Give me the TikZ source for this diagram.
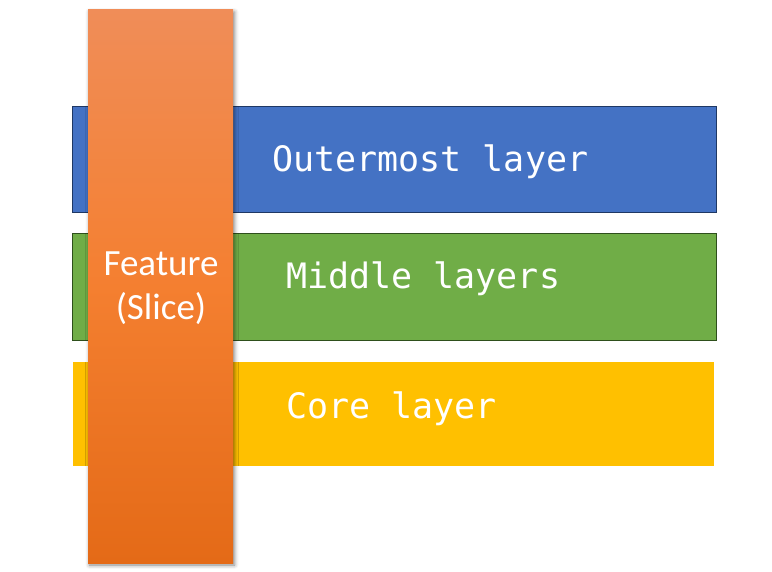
\documentclass[tikz,border=0pt]{standalone}
\usepackage{fontspec}
\newfontfamily\monofnt{DejaVu Sans Mono}
\newfontfamily\calfnt{Carlito}
\usetikzlibrary{shadows.blur}
\definecolor{bluefill}{HTML}{4472C4}
\definecolor{blueedge}{HTML}{1F3864}
\definecolor{greenfill}{HTML}{70AD47}
\definecolor{greenedge}{HTML}{2E4F1C}
\definecolor{yellowfill}{HTML}{FFC000}
\definecolor{orangetop}{HTML}{F08D58}
\definecolor{orangemid}{HTML}{F47F30}
\definecolor{orangebot}{HTML}{E46A17}
\tikzset{
  layerbox/.style={rectangle, inner sep=0pt, outer sep=0pt, anchor=north west},
  layertext/.style={anchor=base west, inner sep=0pt, text=white, font=\monofnt\fontsize{35}{40}\selectfont},
  featurebar/.style={rectangle, inner sep=0pt, outer sep=0pt, anchor=north west,
    top color=orangetop, bottom color=orangebot, middle color=orangemid,
    blur shadow={shadow xshift=1.5pt, shadow yshift=-2pt, shadow blur radius=4pt, shadow opacity=50}},
  featuretext/.style={align=center, inner sep=0pt, text=white, font=\calfnt\fontsize{37}{44}\selectfont}
}
\begin{document}
\begin{tikzpicture}[x=1pt,y=-1pt]
\useasboundingbox (0,0) rectangle (772,572);
\node[layerbox, fill=bluefill, draw=blueedge, line width=0.8pt, minimum width=644pt, minimum height=106pt] (outer) at (72,106) {};
\node[layerbox, fill=greenfill, draw=greenedge, line width=0.8pt, minimum width=644pt, minimum height=107pt] (middle) at (72,233) {};
\node[layerbox, fill=yellowfill, minimum width=641pt, minimum height=104pt] (core) at (73,362) {};
\node[featurebar, minimum width=145pt, minimum height=553pt] (bar) at (88,10) {};
\node[layertext] (outertext) at (272,172) {Outermost layer};
\node[layertext] (middletext) at (286,289) {Middle layers};
\node[layertext] (coretext) at (286,418) {Core layer};
\node[featuretext, anchor=base] (feat) at (161,320) {Feature\\(Slice)};
\end{tikzpicture}
\end{document}
